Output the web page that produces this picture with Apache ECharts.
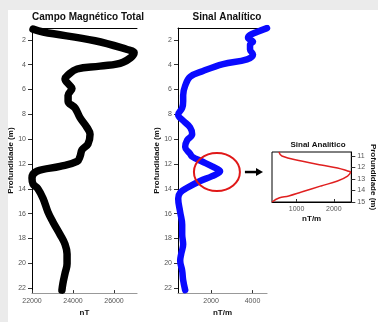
<!DOCTYPE html>
<html><head><meta charset="utf-8">
<script src="https://cdn.jsdelivr.net/npm/echarts@6/dist/echarts.min.js"></script>
<style>html,body{margin:0;padding:0;background:#ebebeb;}#c{width:378px;height:322px;}</style>
</head><body><div id="c"></div>
<script>
// Campo Magnético Total (nT) vs depth (m)
const magDepth = [1.14,1.37,2.08,2.78,3.02,3.80,4.12,4.35,4.90,5.14,5.69,5.92,6.47,6.94,7.49,8.27,9.06,9.61,10.39,10.86,11.41,11.80,12.20,12.59,13.14,13.61,14.0,14.78,15.88,16.67,17.69,18.47,19.25,20.04,20.82,21.6,22.16];
const magValue = [22050,22540,25070,26640,26980,26440,25320,24200,23710,23610,23850,23950,23760,23760,24100,24340,24680,24830,24730,24440,24340,24200,23370,22240,22000,22050,22290,22540,22780,23020,23370,23610,23710,23710,23610,23510,23460];
// Sinal Analítico (nT/m) vs depth (m)
const asDepth = [1.06,1.37,1.61,1.84,2.16,2.39,2.78,3.18,3.57,3.96,4.51,4.98,5.69,6.47,6.94,7.49,8.04,8.51,9.06,9.61,10.08,10.63,11.18,11.41,11.8,12.2,12.59,12.98,13.37,13.92,14.31,14.78,15.88,16.9,17.69,18.47,19.25,19.8,20.59,21.37,22.16];
const asValue = [4700,4217,3880,3783,4024,3880,3880,4024,3735,2578,1614,988,747,650,650,602,410,650,988,1084,843,747,988,1084,1566,2048,2434,2048,1470,843,506,410,506,602,602,650,554,506,602,650,747];
// Inset: Sinal Analítico zoom (nT/m) vs depth (m)
const insetDepth = [10.65,11.0,11.43,11.78,12.04,12.3,12.4,12.74,13.17,13.6,14.13,14.47,14.65,15.0];
const insetValue = [526,605,1130,1660,2100,2370,2450,2370,2100,1660,1130,790,526,340];
// tick labels
const depthTicks = [2,4,6,8,10,12,14,16,18,20,22];
const magTicks = [22000,24000,26000];
const asTicks = [2000,4000];
const insetXTicks = [1000,2000];
const insetYTicks = [11,12,13,14,15];

const zip = (xs, ys) => xs.map((x,i)=>[x, ys[i]]);
const FONT = 'Liberation Sans';
const lblStyle = {color:'#555', fontSize:7, fontFamily:FONT, formatter:(v)=>String(v)};
const nameStyle = {color:'#111', fontSize:8, fontWeight:'bold', fontFamily:FONT};

function yAx(grid, min, max, ticks, gap, pos) {
  return {type:'value', gridIndex:grid, inverse:true, min:min, max:max, position:pos||'left',
    name:'Profundidade (m)', nameLocation:'middle', nameGap:gap, nameRotate: pos==='right'?-90:90, nameTextStyle:nameStyle,
    axisLine:{show:true, lineStyle:{color:'#000', width:1}},
    axisTick:{show:true, inside:false, length:4, customValues:ticks, lineStyle:{color:'#333'}},
    axisLabel:{show:true, margin:6, customValues:ticks, ...lblStyle},
    splitLine:{show:false}};
}
function xAx(grid, min, max, ticks, name, gap, lineColor) {
  return {type:'value', gridIndex:grid, min:min, max:max, position:'bottom',
    name:name, nameLocation:'middle', nameGap:gap, nameTextStyle:nameStyle,
    axisLine:{show:true, onZero:false, lineStyle:{color:lineColor, width:1.2}},
    axisTick:{show:true, inside:true, length:3, customValues:ticks, lineStyle:{color:'#333'}},
    axisLabel:{show:true, margin:4, customValues:ticks, ...lblStyle},
    splitLine:{show:false}};
}
function topAx(grid) {
  return {type:'value', gridIndex:grid, position:'top', min:0, max:1,
    axisLine:{show:true, onZero:false, lineStyle:{color:'#000', width:1}},
    axisTick:{show:false}, axisLabel:{show:false}, splitLine:{show:false}};
}

const chart = echarts.init(document.getElementById('c'), null, {renderer:'canvas'});
const option = {
  backgroundColor:'#ebebeb',
  animation:false,
  title:[
    {text:'Campo Magnético Total', left:83, top:7, textAlign:'center', textStyle:{fontSize:10, fontWeight:'bold', color:'#111', fontFamily:FONT}},
    {text:'Sinal Analítico', left:222, top:7, textAlign:'center', textStyle:{fontSize:10, fontWeight:'bold', color:'#111', fontFamily:FONT}},
    {text:'Sinal Analítico', left:313, top:136, textAlign:'center', textStyle:{fontSize:8, fontWeight:'bold', color:'#111', fontFamily:FONT}}
  ],
  grid:[
    {left:32, top:28, width:105, height:272},
    {left:178, top:28, width:89, height:272},
    {left:272, top:152, width:81, height:50, show:true, borderColor:'#000', borderWidth:1, backgroundColor:'#fff'}
  ],
  xAxis:[
    xAx(0, 22000, 27120, magTicks, 'nT', 13, '#999'),
    xAx(1, 400, 4700, asTicks, 'nT/m', 13, '#999'),
    xAx(2, 340, 2470, insetXTicks, 'nT/m', 13, '#000'),
    topAx(0), topAx(1)
  ],
  yAxis:[
    yAx(0, 1.05, 22.4, depthTicks, 16),
    yAx(1, 1.05, 22.4, depthTicks, 13),
    yAx(2, 10.65, 15, insetYTicks, 16, 'right')
  ],
  series:[
    {type:'line', xAxisIndex:0, yAxisIndex:0, data:zip(magValue, magDepth), smooth:0.4, showSymbol:false,
      lineStyle:{color:'#000', width:7.5, cap:'round', join:'round'}},
    {type:'line', xAxisIndex:1, yAxisIndex:1, data:zip(asValue, asDepth), smooth:0.4, showSymbol:false,
      lineStyle:{color:'#0a0aff', width:6.5, cap:'round', join:'round'}},
    {type:'line', xAxisIndex:2, yAxisIndex:2, data:zip(insetValue, insetDepth), smooth:0.4, showSymbol:false,
      lineStyle:{color:'#e02020', width:1.5}}
  ]
};
chart.setOption(option);

// annotation: ellipse around anomaly peak and arrow pointing to inset
const c = chart.convertToPixel({xAxisIndex:1, yAxisIndex:1}, [2280, 12.65]);
const ins = chart.convertToPixel({xAxisIndex:2, yAxisIndex:2}, [340, 12.65]);
chart.setOption({graphic:[
  {type:'rect', shape:{x:8, y:10, width:370, height:312}, style:{fill:'#fff'}, z:-10, silent:true},
  {type:'ellipse', shape:{cx:c[0], cy:c[1], rx:23, ry:19}, style:{fill:'none', stroke:'#e01818', lineWidth:2}, z:50},
  {type:'line', shape:{x1:c[0]+28, y1:c[1], x2:ins[0]-14, y2:c[1]}, style:{stroke:'#000', lineWidth:2.5}, z:50},
  {type:'polygon', shape:{points:[[ins[0]-16, c[1]-4],[ins[0]-9, c[1]],[ins[0]-16, c[1]+4]]}, style:{fill:'#000'}, z:50}
]});
</script></body></html>
